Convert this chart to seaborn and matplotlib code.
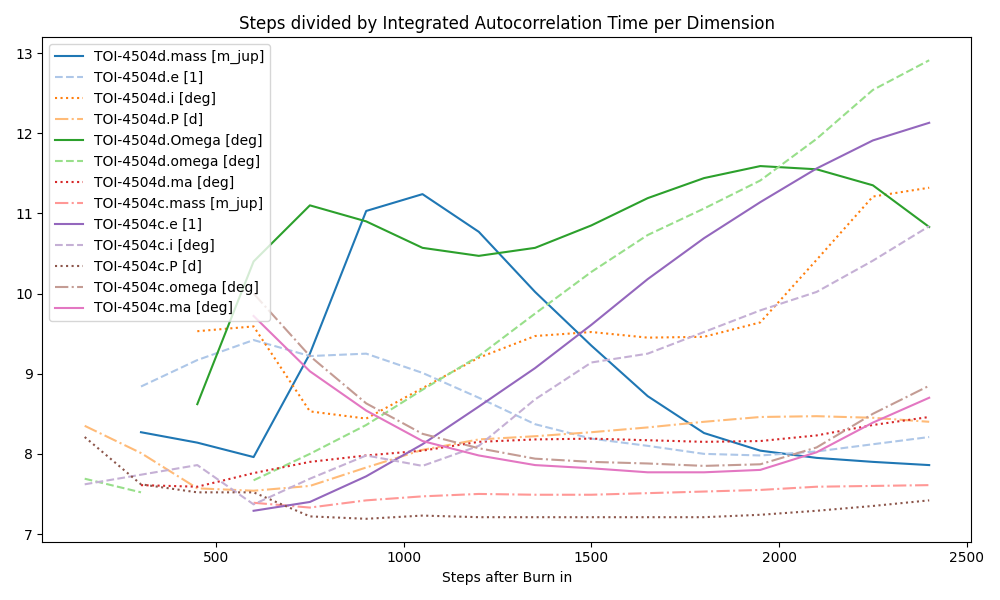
import numpy as np
import pandas as pd
import matplotlib
matplotlib.use("Agg")
import matplotlib.pyplot as plt
import seaborn as sns

nan = np.nan
steps = [150, 300, 450, 600, 750, 900, 1050, 1200, 1350, 1500, 1650, 1800, 1950, 2100, 2250, 2400]

labels = [
    "TOI-4504d.mass [m_jup]", "TOI-4504d.e [1]", "TOI-4504d.i [deg]", "TOI-4504d.P [d]",
    "TOI-4504d.Omega [deg]", "TOI-4504d.omega [deg]", "TOI-4504d.ma [deg]",
    "TOI-4504c.mass [m_jup]", "TOI-4504c.e [1]", "TOI-4504c.i [deg]", "TOI-4504c.P [d]",
    "TOI-4504c.omega [deg]", "TOI-4504c.ma [deg]",
]

d_mass = [nan, 8.27, 8.14, 7.96, 9.25, 11.03, 11.24, 10.77, 10.02, 9.35, 8.72, 8.26, 8.04, 7.95, 7.90, 7.86]
d_e = [nan, 8.84, 9.17, 9.42, 9.22, 9.25, 9.01, 8.70, 8.37, 8.19, 8.10, 8.00, 7.98, 8.03, 8.12, 8.21]
d_i = [nan, nan, 9.53, 9.59, 8.53, 8.44, 8.82, 9.20, 9.47, 9.52, 9.45, 9.46, 9.64, 10.42, 11.21, 11.32]
d_P = [8.35, 8.01, 7.57, 7.54, 7.60, 7.83, 8.05, 8.18, 8.22, 8.27, 8.33, 8.40, 8.46, 8.47, 8.45, 8.40]
d_Omega = [nan, nan, 8.62, 10.40, 11.10, 10.90, 10.57, 10.47, 10.57, 10.85, 11.19, 11.44, 11.59, 11.55, 11.35, 10.83]
d_omega = [7.69, 7.52, nan, 7.67, 8.00, 8.36, 8.80, 9.22, 9.75, 10.27, 10.73, 11.06, 11.41, 11.93, 12.54, 12.91]
d_ma = [nan, 7.61, 7.59, 7.76, 7.90, 7.98, 8.04, 8.15, 8.18, 8.19, 8.17, 8.15, 8.16, 8.23, 8.36, 8.46]
c_mass = [nan, nan, nan, 7.39, 7.33, 7.42, 7.47, 7.50, 7.49, 7.49, 7.51, 7.53, 7.55, 7.59, 7.60, 7.61]
c_e = [nan, nan, nan, 7.29, 7.40, 7.72, 8.12, 8.59, 9.07, 9.61, 10.18, 10.69, 11.14, 11.56, 11.91, 12.13]
c_i = [7.62, 7.74, 7.86, 7.37, 7.69, 7.98, 7.85, 8.10, 8.68, 9.14, 9.25, 9.52, 9.79, 10.02, 10.41, 10.84]
c_P = [8.21, 7.62, 7.52, 7.52, 7.22, 7.19, 7.23, 7.21, 7.21, 7.21, 7.21, 7.21, 7.24, 7.29, 7.35, 7.42]
c_omega = [nan, nan, nan, 10.00, 9.22, 8.63, 8.25, 8.07, 7.94, 7.90, 7.88, 7.85, 7.87, 8.08, 8.50, 8.85]
c_ma = [nan, nan, nan, 9.72, 9.03, 8.54, 8.16, 7.98, 7.86, 7.82, 7.77, 7.77, 7.80, 8.02, 8.39, 8.70]

series = [d_mass, d_e, d_i, d_P, d_Omega, d_omega, d_ma, c_mass, c_e, c_i, c_P, c_omega, c_ma]

colors = plt.get_cmap("tab20").colors
styles = ["-", "--", ":", "-."]

fig, ax = plt.subplots(figsize=(10, 6), dpi=100)

for i, vals in enumerate(series):
    df = pd.DataFrame({"step": steps, "val": vals})
    # split into contiguous runs so NaN gaps stay gaps
    run_id = df["val"].isna().cumsum()
    for _, seg in df.dropna().groupby(run_id[df["val"].notna()]):
        sns.lineplot(data=seg, x="step", y="val", ax=ax, color=colors[i],
                     linestyle=styles[i % 4], estimator=None, legend=False)

handles = [plt.Line2D([], [], color=colors[i], linestyle=styles[i % 4]) for i in range(len(labels))]
ax.legend(handles, labels, loc="upper left")
ax.set_title("Steps divided by Integrated Autocorrelation Time per Dimension")
ax.set_xlabel("Steps after Burn in")
ax.set_ylabel("")
fig.tight_layout()
fig.savefig("out.png")
